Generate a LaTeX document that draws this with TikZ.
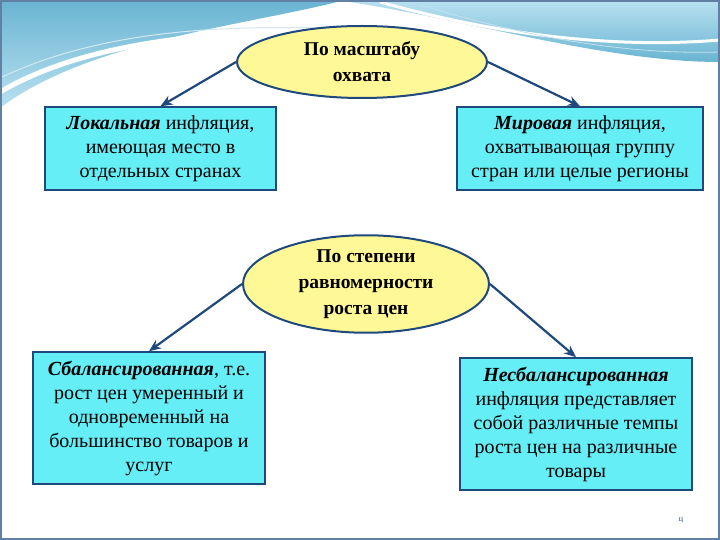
\documentclass[tikz,border=0pt]{standalone}
\usepackage{fontspec}
\setmainfont{Liberation Serif}
\usetikzlibrary{shapes.geometric,arrows.meta}
\definecolor{frameblue}{RGB}{31,73,125}
\definecolor{boxcyan}{RGB}{102,238,246}
\definecolor{ovalyellow}{RGB}{255,248,150}
\definecolor{waveblue}{RGB}{105,180,210}
\definecolor{wavelight}{RGB}{185,225,240}
\begin{document}
\begin{tikzpicture}[x=1pt, y=-1pt,
    box/.style={rectangle, draw=frameblue, line width=1.6pt, fill=boxcyan, align=center, inner sep=2pt, font=\fontsize{20}{24}\selectfont},
    oval/.style={ellipse, draw=frameblue, line width=2pt, fill=ovalyellow, align=center, inner sep=0pt, font=\bfseries\fontsize{19.5}{26}\selectfont},
    arrow/.style={-{Stealth[length=12pt,width=10pt]}, line width=2.2pt, frameblue}
]
\useasboundingbox (0,0) rectangle (720,540);

% Background and top waves
\fill[white] (0,0) rectangle (720,540);
\shade[top color=waveblue, bottom color=wavelight] (0,0) -- (345,0) .. controls (250,25) and (90,40) .. (0,108) -- cycle;
\draw[white, line width=5pt] (0,92) .. controls (80,45) and (200,30) .. (330,32);
\draw[white!70!waveblue, line width=1pt] (0,78) .. controls (90,35) and (200,25) .. (320,28);
\shade[top color=wavelight, bottom color=waveblue] (335,0) -- (720,0) -- (720,62) .. controls (600,62) and (450,15) .. (335,0) -- cycle;
\draw[white, line width=3pt] (380,2) .. controls (480,30) and (600,50) .. (720,40);
\draw[white!60!waveblue, line width=0.8pt] (420,5) .. controls (520,35) and (620,55) .. (720,52);
\draw[frameblue!70, line width=1.5pt] (1,1) rectangle (719,539);

% Scale of coverage
\node[oval, minimum width=250pt, minimum height=72pt] (scale) at (362,62) {По масштабу\\охвата};
\node[box, minimum width=231pt, minimum height=83pt] (local) at (160.5,148.5) {\textit{\textbf{Локальная}} инфляция,\\имеющая место в\\отдельных странах};
\node[box, minimum width=246pt, minimum height=83pt] (world) at (580,148.5) {\textit{\textbf{Мировая}} инфляция,\\охватывающая группу\\стран или целые регионы};

% Evenness of price growth
\node[oval, minimum width=246pt, minimum height=80pt] (even) at (366,284) {По степени\\равномерности\\роста цен};
\node[box, minimum width=232pt, minimum height=132pt] (bal) at (149,418) {\textit{\textbf{Сбалансированная}}, т.е.\\рост цен умеренный и\\одновременный на\\большинство товаров и\\услуг};
\node[box, minimum width=232pt, minimum height=132pt] (unbal) at (576,424) {\textit{\textbf{Несбалансированная}}\\инфляция представляет\\собой различные темпы\\роста цен на различные\\товары};

% Arrows
\draw[arrow] (scale.west) -- (local.north);
\draw[arrow] (scale.east) -- (world.north);
\draw[arrow] (even.west) -- (bal.north);
\draw[arrow] (even.east) -- (unbal.north);

% Slide mark
\node[font=\fontsize{8}{9}\selectfont, text=frameblue] (mark) at (681,520) {ц};
\end{tikzpicture}
\end{document}
